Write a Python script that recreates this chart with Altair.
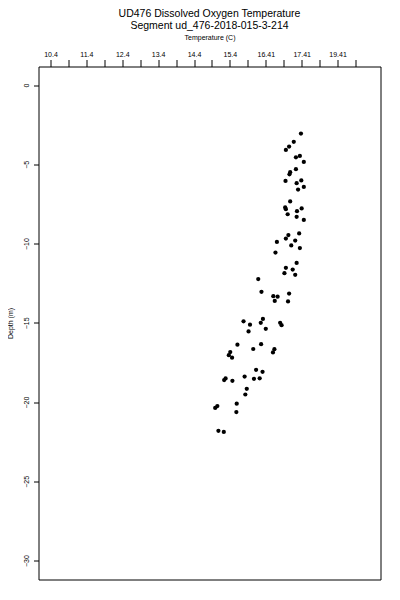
import altair as alt
import pandas as pd

temperature = [17.38, 17.18, 17.05, 16.96, 17.24, 17.35, 17.46, 17.24, 17.08, 17.06,
               16.95, 17.39, 17.26, 17.46, 17.30, 17.08, 16.94, 16.96, 17.40, 17.27,
               17.01, 17.26, 17.46, 17.33, 17.03, 16.96, 17.22, 16.71, 17.11, 17.35,
               16.67, 17.26, 16.96, 17.15, 16.92, 17.22, 16.19, 16.28, 16.61, 16.73,
               16.65, 17.05, 17.02, 15.78, 15.96, 16.32, 16.26, 16.40, 16.80, 16.84,
               15.92, 15.61, 16.05, 16.27, 16.64, 16.60, 15.41, 15.37, 15.46, 16.13,
               16.31, 15.81, 16.07, 16.23, 15.28, 15.24, 15.47, 15.87, 15.83, 15.05,
               14.99, 15.59, 15.58, 15.08, 15.23]
depth = [-3.06, -3.58, -3.88, -4.09, -4.56, -4.47, -4.85, -5.31, -5.50, -5.63,
         -6.05, -6.02, -6.19, -6.43, -6.59, -7.34, -7.72, -7.83, -7.78, -7.96,
         -8.15, -8.31, -8.51, -9.36, -9.46, -9.68, -9.81, -9.90, -10.12, -10.28,
         -10.57, -11.22, -11.53, -11.64, -11.87, -11.97, -12.24, -13.04, -13.32, -13.35,
         -13.62, -13.15, -13.65, -14.90, -15.12, -14.75, -15.00, -15.38, -15.00, -15.15,
         -15.54, -16.38, -16.65, -16.35, -16.66, -16.87, -16.84, -17.04, -17.20, -17.96,
         -18.09, -18.39, -18.53, -18.50, -18.51, -18.61, -18.66, -19.16, -19.52, -20.25,
         -20.37, -20.10, -20.63, -21.81, -21.88]

x_tick_values = [10.4, 10.9, 11.4, 11.9, 12.4, 12.9, 13.4, 13.9, 14.4, 14.9,
                 15.4, 15.9, 16.4, 16.9, 17.4, 17.9, 18.4, 18.9]
x_tick_labels = ["10.4", "", "11.4", "", "12.4", "", "13.4", "", "14.4", "",
                 "15.4", "", "16.41", "", "17.41", "", "19.41", ""]
y_tick_values = [0, -5, -10, -15, -20, -25, -30]

df = pd.DataFrame({"temp": temperature, "depth": depth})

FONT = "Liberation Sans"
label_array = "[" + ",".join("'" + s + "'" for s in x_tick_labels) + "]"
label_expr = label_array + "[round((datum.value - 10.4) * 2)]"

chart = alt.Chart(df).mark_circle(color="black", opacity=1, size=18).encode(
    x=alt.X("temp:Q",
            scale=alt.Scale(domain=[10.066, 19.597], nice=False, zero=False),
            axis=alt.Axis(orient="top", values=x_tick_values, labelExpr=label_expr,
                          title="Temperature (C)", grid=False, domain=False,
                          tickSize=7, tickColor="black", labelPadding=2,
                          labelFont=FONT, labelFontSize=7, labelColor="black",
                          titleFont=FONT, titleFontSize=7, titleFontWeight="normal",
                          titleColor="black", titlePadding=10, labelFlush=False,
                          labelOverlap=False)),
    y=alt.Y("depth:Q",
            scale=alt.Scale(domain=[-31.19, 1.17], nice=False, zero=False),
            axis=alt.Axis(values=y_tick_values, title="Depth (m)", grid=False,
                          domain=False, tickSize=5, tickColor="black",
                          labelAngle=270, labelAlign="center", labelBaseline="bottom",
                          labelPadding=4, labelFont=FONT, labelFontSize=7,
                          labelColor="black", titleFont=FONT, titleFontSize=7,
                          titleFontWeight="normal", titleColor="black",
                          titlePadding=9, labelFlush=False, labelOverlap=False)),
).properties(
    width=342,
    height=513,
    autosize=alt.AutoSizeParams(type="none"),
    padding={"left": 30.5, "top": 58.5, "right": 11, "bottom": 12},
    title=alt.TitleParams(text="UD476 Dissolved Oxygen Temperature",
                          subtitle="Segment ud_476-2018-015-3-214",
                          font=FONT, fontSize=10.5, fontWeight="normal", color="black",
                          subtitleFont=FONT, subtitleFontSize=10.5, subtitleColor="black",
                          subtitlePadding=2, anchor="middle", offset=2),
).configure(background="white").configure_view(stroke="black", strokeWidth=1)

chart.save("out.html", embed_options={"renderer": "svg", "actions": False})
